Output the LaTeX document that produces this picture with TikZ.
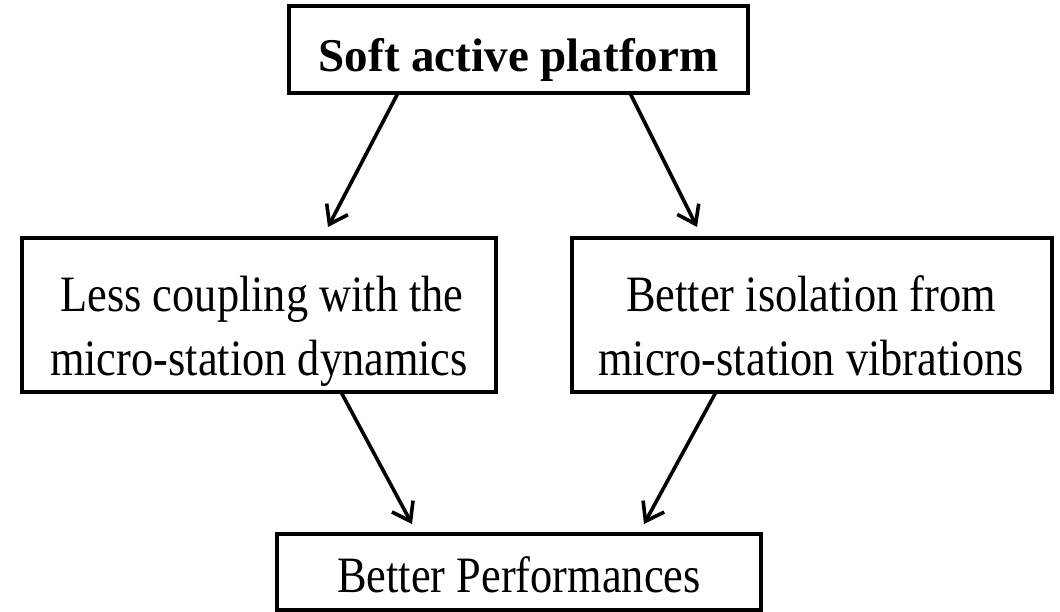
\documentclass[tikz,border=0pt]{standalone}
\usepackage{fontspec}
\setmainfont{Liberation Serif}[FakeStretch=0.87]
\newfontfamily\titlefont{Liberation Serif}
\usetikzlibrary{arrows.meta,calc}
\begin{document}
\begin{tikzpicture}[x=1pt,y=1pt,
  box/.style={draw, line width=3.8pt, outer sep=0pt, inner sep=0pt},
  txt/.style={inner sep=0pt, anchor=base, font=\fontsize{51}{51}\selectfont},
  ttl/.style={inner sep=0pt, anchor=base, font=\titlefont\bfseries\fontsize{47}{47}\selectfont},
  conn/.style={line width=3.6pt, -{Straight Barb[length=17pt,width=24pt]}}]
\useasboundingbox (0,0) rectangle (1060,-612);
% boxes
\node[box, minimum width=459pt, minimum height=87pt] (T) at (518.5,-49.5) {};
\node[box, minimum width=474pt, minimum height=154pt] (L) at (259,-315) {};
\node[box, minimum width=480pt, minimum height=154pt] (R) at (812,-315) {};
\node[box, minimum width=484pt, minimum height=76pt] (B) at (519,-572) {};
% texts
\node[ttl] (Tt) at (518.5,-72) {Soft active platform};
\node[txt] (L1) at (262,-312) {Less coupling with the};
\node[txt] (L2) at (259,-375) {micro-station dynamics};
\node[txt] (R1) at (811,-312) {Better isolation from};
\node[txt] (R2) at (811,-375) {micro-station vibrations};
\node[txt] (Bt) at (519,-592) {Better Performances};
% connectors
\draw[conn] ([xshift=-120.5pt]T.south) -- ([xshift=69pt,yshift=11pt]L.north);
\draw[conn] ([xshift=111.5pt]T.south) -- ([xshift=-115pt,yshift=11pt]R.north);
\draw[conn] ([xshift=82pt]L.south) -- ([xshift=-107pt,yshift=10pt]B.north);
\draw[conn] ([xshift=-96pt]R.south) -- ([xshift=125pt,yshift=10pt]B.north);
\end{tikzpicture}
\end{document}
